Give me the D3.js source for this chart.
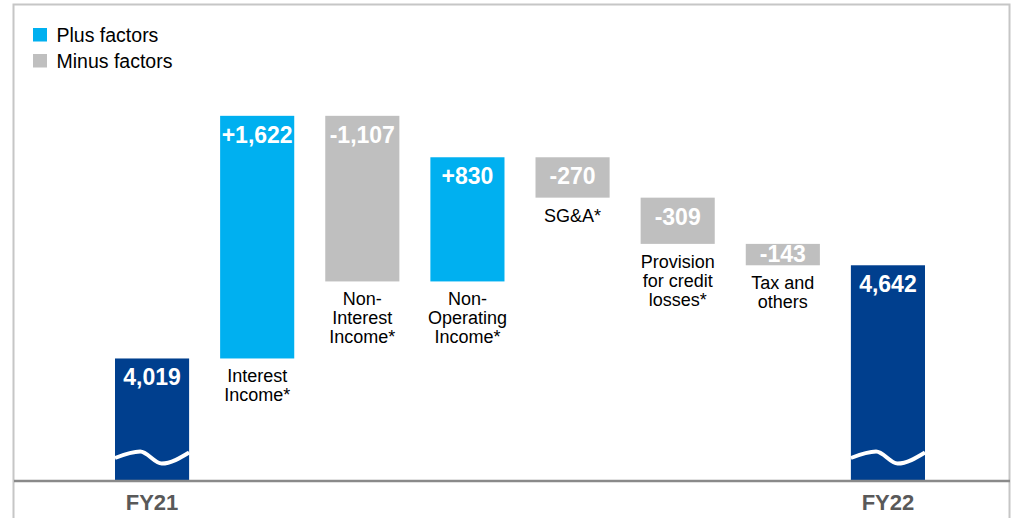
<!DOCTYPE html>
<html>
<head>
<meta charset="utf-8">
<script src="https://cdn.jsdelivr.net/npm/d3@7"></script>
<style>
	body { margin: 0; background: #fff; }
	svg { display: block; font-family: 'Liberation Sans', Arial, sans-serif; }
</style>
</head>
<body>
<svg id="chart" width="1013" height="518"></svg>
<script>
// data
const startLabel = 'FY21';
const endLabel = 'FY22';
const startValue = 4019;
const endValue = 4642;
const factorNames = [
	['Interest', 'Income*'],
	['Non-', 'Interest', 'Income*'],
	['Non-', 'Operating', 'Income*'],
	['SG&A*'],
	['Provision', 'for credit', 'losses*'],
	['Tax and', 'others']
];
const factorValues = [1622, -1107, 830, -270, -309, -143];
const legendLabels = ['Plus factors', 'Minus factors'];

const colors = { total: '#003f8e', plus: '#00b0f0', minus: '#bfbfbf' };
const baseY = 481;

const fmtLocale = d3.formatLocale({ decimal: '.', thousands: ',', grouping: [3], currency: ['', ''], minus: '-' });
const fmtTotal = fmtLocale.format(',');
const fmtDelta = fmtLocale.format('+,');

// build waterfall steps
let running = startValue;
const steps = [{ key: 'start', type: 'total', lines: [], axis: startLabel, from: null, to: startValue, label: fmtTotal(startValue) }];
factorValues.forEach((v, i) => {
	steps.push({
		key: 'f' + i,
		type: v >= 0 ? 'plus' : 'minus',
		lines: factorNames[i],
		from: running,
		to: running + v,
		label: fmtDelta(v)
	});
	running += v;
});
steps.push({ key: 'end', type: 'total', lines: [], axis: endLabel, from: null, to: endValue, label: fmtTotal(endValue) });

const svg = d3.select('#chart');

// frame
svg.append('rect')
	.attr('x', 13.5).attr('y', 4.5)
	.attr('width', 996).attr('height', 530)
	.attr('fill', 'none')
	.attr('stroke', '#c6c6c6')
	.attr('stroke-width', 2);

const x = d3.scaleBand()
	.domain(steps.map(d => d.key))
	.range([115, 925])
	.paddingInner(0.295)
	.paddingOuter(0);

// broken axis: total bars start from the floor of the domain
const y = d3.scaleLinear()
	.domain([3200, 5700])
	.range([baseY, 107]);
const floor = y.domain()[0];

const items = svg.selectAll('g.step')
	.data(steps)
	.enter()
	.append('g')
	.attr('class', 'step')
	.attr('transform', d => `translate(${x(d.key)}, 0)`);

const barTop = d => y(Math.max(d.from == null ? floor : d.from, d.to));
const barBottom = d => y(Math.min(d.from == null ? floor : d.from, d.to));

items.append('rect')
	.attr('y', barTop)
	.attr('width', x.bandwidth())
	.attr('height', d => barBottom(d) - barTop(d))
	.attr('fill', d => colors[d.type]);

// wave marking the broken axis on total bars
const bw = x.bandwidth();
const wave = d3.line().curve(d3.curveMonotoneX);
items.filter(d => d.type === 'total')
	.append('path')
	.attr('d', wave([[0, baseY - 23], [bw * 0.34, baseY - 29.5], [bw * 0.63, baseY - 17.5], [bw, baseY - 28.5]]))
	.attr('fill', 'none')
	.attr('stroke', '#fff')
	.attr('stroke-width', 4);

// value labels inside the bars
items.append('text')
	.text(d => d.label)
	.attr('x', bw / 2)
	.attr('y', d => Math.min(barTop(d) + 27, barBottom(d) - 3))
	.attr('text-anchor', 'middle')
	.attr('fill', '#fff')
	.attr('font-weight', 'bold')
	.attr('font-size', 23);

// factor names under the bars
items.filter(d => d.type !== 'total')
	.append('text')
	.attr('y', d => barBottom(d) + 24)
	.attr('text-anchor', 'middle')
	.attr('font-size', 18)
	.attr('fill', '#000')
	.selectAll('tspan')
	.data(d => d.lines)
	.enter()
	.append('tspan')
	.attr('x', bw / 2)
	.attr('dy', (d, i) => i === 0 ? 0 : 19)
	.text(d => d);

// baseline
svg.append('line')
	.attr('x1', 14).attr('x2', 1010)
	.attr('y1', baseY).attr('y2', baseY)
	.attr('stroke', '#8a8a8a')
	.attr('stroke-width', 2.5);

// axis labels
items.filter(d => d.type === 'total')
	.append('text')
	.text(d => d.axis)
	.attr('x', bw / 2)
	.attr('y', 510)
	.attr('text-anchor', 'middle')
	.attr('font-weight', 'bold')
	.attr('font-size', 22)
	.attr('fill', '#595959');

// legend
const legend = svg.selectAll('g.legend')
	.data(legendLabels)
	.enter()
	.append('g')
	.attr('class', 'legend')
	.attr('transform', (d, i) => `translate(33, ${28 + i * 26})`);

legend.append('rect')
	.attr('width', 14)
	.attr('height', 13.5)
	.attr('fill', (d, i) => i === 0 ? colors.plus : colors.minus);

legend.append('text')
	.text(d => d)
	.attr('x', 23.5)
	.attr('y', 13.5)
	.attr('font-size', 19.5)
	.attr('fill', '#000');
</script>
</body>
</html>
